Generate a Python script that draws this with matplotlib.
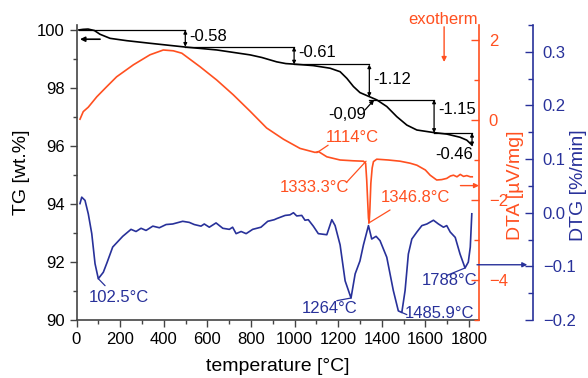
import matplotlib
matplotlib.use('Agg')
import matplotlib.pyplot as plt
from matplotlib.ticker import MultipleLocator

plt.rcParams['font.family'] = ['Liberation Sans', 'DejaVu Sans']

# --- datos ---
tg_T = [11, 30, 53, 82, 108, 154, 230, 337, 499, 643, 796, 850, 918, 960, 1000,
        1086, 1163, 1209, 1240, 1270, 1300, 1343, 1377, 1423, 1469, 1515, 1561,
        1640, 1698, 1759, 1790, 1814]
tg = [100.0, 100.02, 100.03, 99.98, 99.85, 99.71, 99.63, 99.54, 99.41, 99.31,
      99.14, 99.05, 98.90, 98.84, 98.82, 98.77, 98.68, 98.56, 98.33, 98.05,
      97.84, 97.70, 97.59, 97.36, 97.01, 96.72, 96.55, 96.46, 96.41, 96.30,
      96.20, 96.03]

dta_T = [16, 31, 54, 93, 138, 184, 261, 337, 398, 444, 483, 567, 643, 719, 796,
         872, 949, 1025, 1094, 1110, 1148, 1209, 1270, 1316, 1326, 1331, 1336,
         1339, 1342, 1345, 1350, 1356, 1362, 1377, 1430, 1484, 1530, 1561, 1600,
         1622, 1652, 1675, 1698, 1715, 1729, 1745, 1760, 1775, 1790, 1806, 1815]
dta = [0.02, 0.21, 0.32, 0.58, 0.83, 1.08, 1.38, 1.63, 1.75, 1.73, 1.67, 1.33,
       1.0, 0.63, 0.22, -0.2, -0.48, -0.71, -0.81, -0.79, -0.92, -1.0, -1.02,
       -1.03, -1.08, -1.5, -2.1, -2.45, -2.57, -2.3, -1.58, -1.2, -1.04, -0.98,
       -1.0, -1.03, -1.08, -1.13, -1.25, -1.38, -1.5, -1.49, -1.46, -1.40, -1.38,
       -1.42, -1.36, -1.41, -1.39, -1.42, -1.42]

dtg_T = [16, 24, 39, 54, 70, 85, 100, 123, 140, 166, 212, 250, 273, 296, 319,
         350, 380, 411, 441, 487, 517, 540, 571, 586, 609, 640, 671, 701, 716,
         732, 755, 778, 808, 846, 877, 907, 918, 957, 979, 995, 1010, 1033, 1048,
         1063, 1086, 1109, 1148, 1171, 1186, 1209, 1232, 1259, 1278, 1300, 1316,
         1339, 1354, 1374, 1392, 1423, 1453, 1476, 1492, 1507, 1522, 1538, 1561,
         1584, 1607, 1637, 1660, 1683, 1698, 1714, 1737, 1759, 1782, 1797, 1806,
         1813]
dtg = [0.017, 0.029, 0.023, -0.002, -0.039, -0.095, -0.123, -0.111, -0.093,
       -0.064, -0.044, -0.031, -0.035, -0.029, -0.033, -0.025, -0.028, -0.022,
       -0.021, -0.016, -0.018, -0.022, -0.025, -0.021, -0.027, -0.019, -0.029,
       -0.031, -0.027, -0.039, -0.035, -0.039, -0.031, -0.027, -0.016, -0.013,
       -0.011, -0.005, -0.004, 0.0, -0.006, -0.005, -0.014, -0.013, -0.025,
       -0.039, -0.041, -0.013, -0.024, -0.060, -0.127, -0.159, -0.114, -0.090,
       -0.060, -0.024, -0.049, -0.044, -0.052, -0.083, -0.145, -0.183, -0.186,
       -0.145, -0.077, -0.049, -0.036, -0.024, -0.021, -0.014, -0.021, -0.027,
       -0.024, -0.036, -0.046, -0.077, -0.103, -0.092, -0.064, -0.002]

# escalones de pérdida de masa
niveles = [100.0, 99.42, 98.81, 97.69, 97.60, 96.45, 95.99]
pasos = ['-0.58', '-0.61', '-1.12', '-1.15', '-0.46']
T_pasos = [499, 998, 1343, 1640, 1814]

NARANJA = '#FF5020'
AZUL = '#28319A'
GRIS = '#444444'

fig = plt.figure(figsize=(5.88, 3.78), dpi=100)
ax = fig.add_axes([76.5 / 588, 58 / 378, 402.5 / 588, 295 / 378])
ax2 = ax.twinx()
ax3 = ax.twinx()

# --- TG ---
ax.plot(tg_T, tg, color='black', lw=1.2)
ax.set_xlim(0, 1846)
ax.set_ylim(90, 100.17)
ax.xaxis.set_major_locator(MultipleLocator(200))
ax.xaxis.set_minor_locator(MultipleLocator(100))
ax.yaxis.set_major_locator(MultipleLocator(2))
ax.yaxis.set_minor_locator(MultipleLocator(1))
ax.tick_params(which='both', direction='out', color=GRIS, labelsize=12, width=1)
ax.tick_params(which='major', length=5)
ax.tick_params(which='minor', length=3)
for s in ['top', 'right']:
    ax.spines[s].set_visible(False)
for s in ['left', 'bottom']:
    ax.spines[s].set_color(GRIS)
    ax.spines[s].set_linewidth(1.2)
ax.set_xlabel('temperature [°C]', fontsize=14, labelpad=8)
ax.set_ylabel('TG [wt.%]', fontsize=14)
ax.yaxis.set_label_coords(-0.115, 0.5)

# flechas de escalones
lw_a = 0.9
ax.plot([tg_T[0], T_pasos[0]], [niveles[0], niveles[0]], color='black', lw=lw_a)
arr = [(0, 1), (1, 2), (2, 3), (4, 5), (5, 6)]
for i, (a, b) in enumerate(arr):
    ax.annotate('', xy=(T_pasos[i], niveles[b]), xytext=(T_pasos[i], niveles[a]),
                arrowprops=dict(arrowstyle='<|-|>', color='black', lw=lw_a,
                                mutation_scale=5, shrinkA=0, shrinkB=0))
    if i < len(T_pasos) - 1:
        nivel = niveles[b] if b != 3 else niveles[4]
        ax.plot([T_pasos[i], T_pasos[i + 1]], [nivel, nivel], color='black', lw=lw_a)
offs = [99.79, 99.22, 98.28, 97.27]
for i, y in enumerate(offs):
    ax.text(T_pasos[i] + 18, y, pasos[i], fontsize=12, ha='left', va='center')
ax.text(1732, 95.72, pasos[4], fontsize=12, ha='center', va='center')
ax.annotate('', xy=(1365, 97.59), xytext=(1323, 97.24),
            arrowprops=dict(arrowstyle='-|>', color='black', lw=lw_a,
                            mutation_scale=6, shrinkA=0, shrinkB=0))
ax.text(1240, 97.07, '-0,09', fontsize=12, ha='center', va='center')
ax.annotate('', xy=(16, 99.68), xytext=(108, 99.68),
            arrowprops=dict(arrowstyle='-|>', color='black', lw=1.2,
                            mutation_scale=7, shrinkA=0, shrinkB=0))

# --- DTA ---
ax2.plot(dta_T, dta, color=NARANJA, lw=1.2)
ax2.set_ylim(-5, 2.375)
ax2.yaxis.set_major_locator(MultipleLocator(2))
ax2.yaxis.set_minor_locator(MultipleLocator(1))
ax2.tick_params(which='both', direction='in', color=NARANJA, labelcolor=NARANJA,
                labelsize=12, pad=7, width=1)
ax2.tick_params(which='major', length=6)
ax2.tick_params(which='minor', length=3.5)
for s in ['top', 'left', 'bottom']:
    ax2.spines[s].set_visible(False)
ax2.spines['right'].set_color(NARANJA)
ax2.spines['right'].set_linewidth(1.2)
ax2.set_ylabel('DTA [µV/mg]', fontsize=14, color=NARANJA)
ax2.yaxis.set_label_coords(1.0696, 0.458)

ax2.annotate('', xy=(1102, -0.82), xytext=(1154, -0.63),
             arrowprops=dict(arrowstyle='-', color=NARANJA, lw=0.9, shrinkA=0, shrinkB=0))
ax2.text(1264, -0.44, '1114°C', color=NARANJA, fontsize=12, ha='center', va='center')
ax2.annotate('', xy=(1328, -1.03), xytext=(1240, -1.55),
             arrowprops=dict(arrowstyle='-', color=NARANJA, lw=0.9, shrinkA=0, shrinkB=0))
ax2.text(1090, -1.7, '1333.3°C', color=NARANJA, fontsize=12, ha='center', va='center')
ax2.annotate('', xy=(1339, -2.58), xytext=(1438, -2.25),
             arrowprops=dict(arrowstyle='-', color=NARANJA, lw=0.9, shrinkA=0, shrinkB=0))
ax2.text(1553, -1.93, '1346.8°C', color=NARANJA, fontsize=12, ha='center', va='center')
ax2.annotate('', xy=(1.0, -1.64), xytext=(1761, -1.64),
             xycoords=('axes fraction', 'data'), textcoords='data',
             arrowprops=dict(arrowstyle='-|>', color=NARANJA, lw=1.0,
                             mutation_scale=7, shrinkA=0, shrinkB=0))
ax2.text(1681, 2.5, 'exotherm', color=NARANJA, fontsize=12, ha='center', va='center',
         clip_on=False)
ax2.annotate('', xy=(1686, 1.45), xytext=(1686, 2.33),
             arrowprops=dict(arrowstyle='-|>', color=NARANJA, lw=1.0,
                             mutation_scale=7, shrinkA=0, shrinkB=0),
             annotation_clip=False)

# --- DTG ---
ax3.plot(dtg_T, dtg, color=AZUL, lw=1.2)
ax3.set_ylim(-0.2, 0.35)
ax3.spines['right'].set_position(('axes', 456.5 / 402.5))
ax3.yaxis.set_major_locator(MultipleLocator(0.1))
ax3.yaxis.set_minor_locator(MultipleLocator(0.05))
ax3.tick_params(which='both', direction='in', color=AZUL, labelcolor=AZUL,
                labelsize=12, pad=7, width=1)
ax3.tick_params(which='major', length=6)
ax3.tick_params(which='minor', length=3.5)
for s in ['top', 'left', 'bottom']:
    ax3.spines[s].set_visible(False)
ax3.spines['right'].set_color(AZUL)
ax3.spines['right'].set_linewidth(1.2)
ax3.set_ylabel('DTG [%/min]', fontsize=14, color=AZUL)
ax3.yaxis.set_label_coords(1.226, 0.458)

etiquetas_dtg = [('102.5°C', (100, -0.123), (131, -0.136), (195, -0.158)),
                 ('1264°C', (1259, -0.159), (1194, -0.164), (1163, -0.179)),
                 ('1485.9°C', (1492, -0.186), (1515, -0.19), (1667, -0.187)),
                 ('1788°C', (1782, -0.103), (1698, -0.117), (1713, -0.127))]
for txt, p0, p1, pt in etiquetas_dtg:
    ax3.annotate('', xy=p0, xytext=p1,
                 arrowprops=dict(arrowstyle='-', color=AZUL, lw=0.9, shrinkA=0, shrinkB=0))
    ax3.text(pt[0], pt[1], txt, color=AZUL, fontsize=12, ha='center', va='center')
ax3.annotate('', xy=(1.12, -0.097), xytext=(0.995, -0.097),
             xycoords=('axes fraction', 'data'), textcoords=('axes fraction', 'data'),
             arrowprops=dict(arrowstyle='-|>', color=AZUL, lw=1.0,
                             mutation_scale=7, shrinkA=0, shrinkB=0),
             annotation_clip=False)

fig.savefig('out.png', dpi=100)
